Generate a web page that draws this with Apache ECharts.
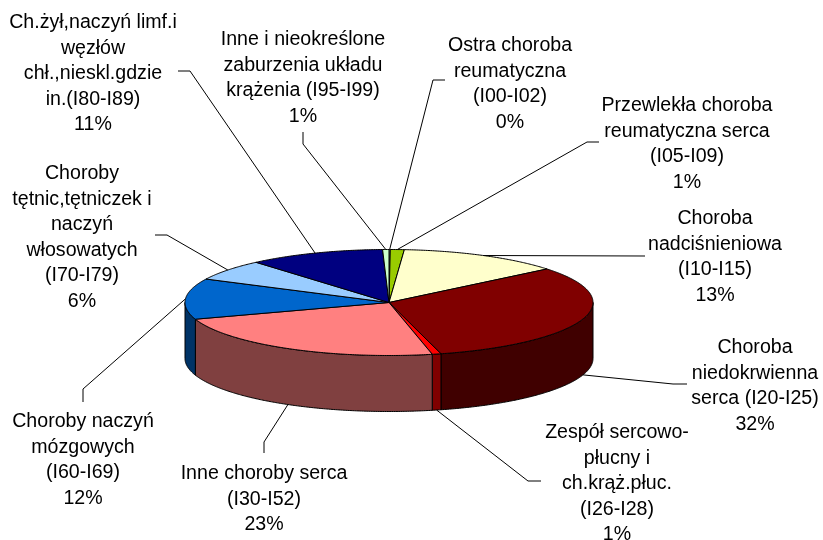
<!DOCTYPE html>
<html>
<head>
<meta charset="utf-8">
<style>html,body{margin:0;padding:0;background:#fff}#c{width:823px;height:540px}</style>
<script src="https://cdn.jsdelivr.net/npm/echarts@6/dist/echarts.min.js"></script>
</head>
<body>
<div id="c"></div>
<script>
// Data, clockwise from 12 o'clock
const categories = [
  'Ostra choroba\nreumatyczna\n(I00-I02)',
  'Przewlekła choroba\nreumatyczna serca\n(I05-I09)',
  'Choroba\nnadciśnieniowa\n(I10-I15)',
  'Choroba\nniedokrwienna\nserca (I20-I25)',
  'Zespół sercowo-\npłucny i\nch.krąż.płuc.\n(I26-I28)',
  'Inne choroby serca\n(I30-I52)',
  'Choroby naczyń\nmózgowych\n(I60-I69)',
  'Choroby\ntętnic,tętniczek i\nnaczyń\nwłosowatych\n(I70-I79)',
  'Ch.żył,naczyń limf.i\nwęzłów\nchł.,nieskl.gdzie\nin.(I80-I89)',
  'Inne i nieokreślone\nzaburzenia układu\nkrążenia (I95-I99)'
];
const values = [0.1, 1.1, 12.9, 31.8, 0.7, 23.3, 12.4, 6.4, 10.8, 0.5];
const percentLabels = ['0%', '1%', '13%', '32%', '1%', '23%', '12%', '6%', '11%', '1%'];

// Styles
const topColors = ['#CCFFFF', '#99CC00', '#FFFFCC', '#800000', '#FF0000', '#FF8080', '#0066CC', '#99CCFF', '#000080', '#CCFFCC'];
const sideColors = ['#668080', '#4D6600', '#808066', '#400000', '#800000', '#804040', '#003366', '#4D6680', '#000040', '#668066'];

// Layout
const pie = { cx: 389, cy: 302.5, rx: 204, ry: 53, depth: 56 };
const labelCenterX = [510, 687, 715, 755, 617, 264, 83, 82, 93, 303];
const labelTopY = [33, 93, 206, 335, 420, 461, 409, 161, 10, 27];
const leaderEnds = [[445, 80], [599, 142], [645, 256], [687, 384], [541, 481], [264, 453], [83, 402], [155, 235], [178, 71], [303, 132]];
const leaderElbows = [[433, 80], [587, 142], null, [673, 384], [528, 481], [264, 442], [83, 389], [167, 235], [190, 71], [303, 144]];
const font = '19.6px "Liberation Sans", Arial, sans-serif';
const lineH = 25.5;

const total = values.reduce((a, b) => a + b, 0);
const toDeg = v => v / total * 360;
const starts = [];
values.reduce((acc, v, i) => { starts[i] = acc; return acc + toDeg(v); }, 0);

function rim(deg, dy) {
  const t = deg * Math.PI / 180;
  return [pie.cx + pie.rx * Math.sin(t), pie.cy - pie.ry * Math.cos(t) + (dy || 0)];
}
function arc(a, b, dy) {
  const pts = [];
  const n = Math.max(2, Math.ceil((b - a) * 2));
  for (let i = 0; i <= n; i++) pts.push(rim(a + (b - a) * i / n, dy));
  return pts;
}

function renderItem(params, api) {
  const i = params.dataIndex;
  const sweep = toDeg(api.value(0));
  const a = starts[i], b = a + sweep;
  const children = [];
  const stroke = { stroke: '#000', lineWidth: 1, lineJoin: 'round' };

  // outer wall, only the part facing the viewer
  const sa = Math.max(a, 90), sb = Math.min(b, 270);
  if (sb > sa) {
    children.push({
      type: 'polygon',
      shape: { points: arc(sa, sb, 0).concat(arc(sa, sb, pie.depth).reverse()) },
      style: Object.assign({ fill: sideColors[i] }, stroke)
    });
  }
  // top face
  children.push({
    type: 'polygon',
    shape: { points: [[pie.cx, pie.cy]].concat(arc(a, b, 0)) },
    style: Object.assign({ fill: topColors[i] }, stroke)
  });

  // leader line anchored at the slice's mid angle
  const mid = (a + b) / 2;
  const onWall = mid > 90 && mid < 270;
  const anchor = rim(mid, onWall ? pie.depth : 0);
  const pts = [leaderEnds[i]];
  if (leaderElbows[i]) pts.push(leaderElbows[i]);
  pts.push(anchor);
  children.push({
    type: 'polyline',
    shape: { points: pts },
    style: { stroke: '#000', lineWidth: 1, fill: null }
  });

  // label
  children.push({
    type: 'text',
    style: {
      text: categories[i] + '\n' + percentLabels[i],
      x: labelCenterX[i],
      y: labelTopY[i],
      align: 'center',
      verticalAlign: 'top',
      font: font,
      lineHeight: lineH,
      fill: '#000'
    }
  });
  return { type: 'group', children };
}

const chart = echarts.init(document.getElementById('c'), null, { renderer: 'canvas' });
chart.setOption({
  animation: false,
  backgroundColor: '#fff',
  series: [{
    type: 'custom',
    coordinateSystem: 'none',
    renderItem,
    clip: false,
    silent: true,
    data: values.map((v, i) => ({ name: categories[i], value: [v] }))
  }]
});
</script>
</body>
</html>
